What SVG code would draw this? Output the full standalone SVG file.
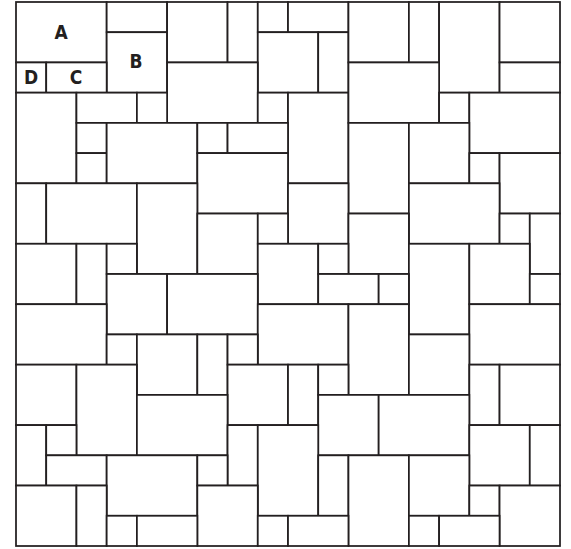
<svg xmlns="http://www.w3.org/2000/svg" width="571" height="549" viewBox="0 0 571 549">
<style>
.s{fill:#fff;stroke:#231f20;stroke-width:0.058}
.t{font-family:"Liberation Sans Narrow","DejaVu Sans Condensed","Liberation Sans",sans-serif;font-weight:bold;font-size:19px;fill:#231f20;text-anchor:middle}
</style>
<rect width="571" height="549" fill="#fff"/>
<g id="stones" transform="translate(16,2) scale(30.2222)">
<rect class="s" x="0" y="0" width="3" height="2"/>
<rect class="s" x="3" y="0" width="2" height="1"/>
<rect class="s" x="3" y="1" width="2" height="2"/>
<rect class="s" x="5" y="0" width="2" height="2"/>
<rect class="s" x="7" y="0" width="1" height="2"/>
<rect class="s" x="8" y="0" width="1" height="1"/>
<rect class="s" x="9" y="0" width="2" height="1"/>
<rect class="s" x="8" y="1" width="2" height="2"/>
<rect class="s" x="10" y="1" width="1" height="2"/>
<rect class="s" x="11" y="0" width="2" height="2"/>
<rect class="s" x="13" y="0" width="1" height="2"/>
<rect class="s" x="14" y="0" width="2" height="3"/>
<rect class="s" x="16" y="0" width="2" height="2"/>
<rect class="s" x="16" y="2" width="2" height="1"/>
<rect class="s" x="0" y="2" width="1" height="1"/>
<rect class="s" x="1" y="2" width="2" height="1"/>
<rect class="s" x="5" y="2" width="3" height="2"/>
<rect class="s" x="8" y="3" width="1" height="1"/>
<rect class="s" x="9" y="3" width="2" height="3"/>
<rect class="s" x="11" y="2" width="3" height="2"/>
<rect class="s" x="14" y="3" width="1" height="1"/>
<rect class="s" x="15" y="3" width="3" height="2"/>
<rect class="s" x="0" y="3" width="2" height="3"/>
<rect class="s" x="2" y="3" width="2" height="1"/>
<rect class="s" x="4" y="3" width="1" height="1"/>
<rect class="s" x="2" y="4" width="1" height="1"/>
<rect class="s" x="2" y="5" width="1" height="1"/>
<rect class="s" x="3" y="4" width="3" height="2"/>
<rect class="s" x="6" y="4" width="1" height="1"/>
<rect class="s" x="7" y="4" width="2" height="1"/>
<rect class="s" x="6" y="5" width="3" height="2"/>
<rect class="s" x="11" y="4" width="2" height="3"/>
<rect class="s" x="13" y="4" width="2" height="2"/>
<rect class="s" x="15" y="5" width="1" height="1"/>
<rect class="s" x="16" y="5" width="2" height="2"/>
<rect class="s" x="0" y="6" width="1" height="2"/>
<rect class="s" x="1" y="6" width="3" height="2"/>
<rect class="s" x="4" y="6" width="2" height="3"/>
<rect class="s" x="9" y="6" width="2" height="2"/>
<rect class="s" x="13" y="6" width="3" height="2"/>
<rect class="s" x="6" y="7" width="2" height="2"/>
<rect class="s" x="8" y="7" width="1" height="1"/>
<rect class="s" x="11" y="7" width="2" height="2"/>
<rect class="s" x="16" y="7" width="1" height="1"/>
<rect class="s" x="17" y="7" width="1" height="2"/>
<rect class="s" x="0" y="8" width="2" height="2"/>
<rect class="s" x="2" y="8" width="1" height="2"/>
<rect class="s" x="3" y="8" width="1" height="1"/>
<rect class="s" x="8" y="8" width="2" height="2"/>
<rect class="s" x="10" y="8" width="1" height="1"/>
<rect class="s" x="13" y="8" width="2" height="3"/>
<rect class="s" x="15" y="8" width="2" height="2"/>
<rect class="s" x="3" y="9" width="2" height="2"/>
<rect class="s" x="5" y="9" width="3" height="2"/>
<rect class="s" x="10" y="9" width="2" height="1"/>
<rect class="s" x="12" y="9" width="1" height="1"/>
<rect class="s" x="17" y="9" width="1" height="1"/>
<rect class="s" x="0" y="10" width="3" height="2"/>
<rect class="s" x="8" y="10" width="3" height="2"/>
<rect class="s" x="11" y="10" width="2" height="3"/>
<rect class="s" x="15" y="10" width="3" height="2"/>
<rect class="s" x="3" y="11" width="1" height="1"/>
<rect class="s" x="4" y="11" width="2" height="2"/>
<rect class="s" x="6" y="11" width="1" height="2"/>
<rect class="s" x="7" y="11" width="1" height="1"/>
<rect class="s" x="13" y="11" width="2" height="2"/>
<rect class="s" x="0" y="12" width="2" height="2"/>
<rect class="s" x="2" y="12" width="2" height="3"/>
<rect class="s" x="7" y="12" width="2" height="2"/>
<rect class="s" x="9" y="12" width="1" height="2"/>
<rect class="s" x="10" y="12" width="1" height="1"/>
<rect class="s" x="15" y="12" width="1" height="2"/>
<rect class="s" x="16" y="12" width="2" height="2"/>
<rect class="s" x="4" y="13" width="3" height="2"/>
<rect class="s" x="10" y="13" width="2" height="2"/>
<rect class="s" x="12" y="13" width="3" height="2"/>
<rect class="s" x="0" y="14" width="1" height="2"/>
<rect class="s" x="1" y="14" width="1" height="1"/>
<rect class="s" x="7" y="14" width="1" height="2"/>
<rect class="s" x="8" y="14" width="2" height="3"/>
<rect class="s" x="15" y="14" width="2" height="2"/>
<rect class="s" x="17" y="14" width="1" height="2"/>
<rect class="s" x="1" y="15" width="2" height="1"/>
<rect class="s" x="3" y="15" width="3" height="2"/>
<rect class="s" x="6" y="15" width="1" height="1"/>
<rect class="s" x="10" y="15" width="1" height="2"/>
<rect class="s" x="11" y="15" width="2" height="3"/>
<rect class="s" x="13" y="15" width="2" height="2"/>
<rect class="s" x="0" y="16" width="2" height="2"/>
<rect class="s" x="2" y="16" width="1" height="2"/>
<rect class="s" x="6" y="16" width="2" height="2"/>
<rect class="s" x="15" y="16" width="1" height="1"/>
<rect class="s" x="16" y="16" width="2" height="2"/>
<rect class="s" x="3" y="17" width="1" height="1"/>
<rect class="s" x="4" y="17" width="2" height="1"/>
<rect class="s" x="8" y="17" width="1" height="1"/>
<rect class="s" x="9" y="17" width="2" height="1"/>
<rect class="s" x="13" y="17" width="1" height="1"/>
<rect class="s" x="14" y="17" width="2" height="1"/>
</g>
<g id="labels">
<text class="t" x="61" y="39">A</text>
<text class="t" x="136" y="68">B</text>
<text class="t" x="76" y="84">C</text>
<text class="t" x="31" y="84">D</text>
</g>
</svg>
